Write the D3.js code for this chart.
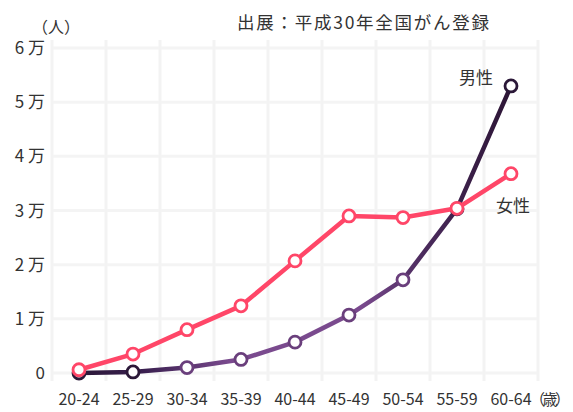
<!DOCTYPE html>
<html>
<head>
<meta charset="utf-8">
<script src="https://cdn.jsdelivr.net/npm/d3@7"></script>
<style>
  body { margin: 0; background: #fff; }
  text { font-family: "Noto Sans CJK JP", sans-serif; fill: #333; }
</style>
</head>
<body>
<svg id="chart" width="573" height="412"></svg>
<script>
const ages = ['20-24', '25-29', '30-34', '35-39', '40-44', '45-49', '50-54', '55-59', '60-64'];
const male = [0.0, 0.02, 0.1, 0.25, 0.57, 1.07, 1.72, 3.03, 5.3];
const female = [0.06, 0.35, 0.8, 1.24, 2.07, 2.9, 2.87, 3.04, 3.68];
const yTicks = [0, 1, 2, 3, 4, 5, 6];

const svg = d3.select('#chart');
const plotLeft = 52, plotRight = 538, plotTop = 40, plotBottom = 381;

const x = d3.scaleBand().domain(ages).range([plotLeft, plotRight]).padding(0);
const y = d3.scaleLinear().domain([0, 6]).range([373, 48]);
const cx = d => x(d) + x.bandwidth() / 2;

// faint grid
const grid = svg.append('g');
grid.selectAll('line.h').data(yTicks).enter().append('line')
  .attr('x1', plotLeft).attr('x2', plotRight)
  .attr('y1', d => y(d)).attr('y2', d => y(d))
  .attr('stroke', '#f4f4f4').attr('stroke-width', 3);
grid.selectAll('line.v').data(ages.concat(['end'])).enter().append('line')
  .attr('x1', (d, i) => plotLeft + i * x.bandwidth()).attr('x2', (d, i) => plotLeft + i * x.bandwidth())
  .attr('y1', plotTop).attr('y2', plotBottom)
  .attr('stroke', '#f3f3f3').attr('stroke-width', 3);

// y axis labels
svg.append('g').selectAll('text').data(yTicks).enter().append('text')
  .attr('x', 45).attr('y', d => y(d) + 6)
  .attr('text-anchor', 'end').attr('font-size', 17)
  .text(d => d === 0 ? '0' : d + ' 万');

// x axis labels
svg.append('g').selectAll('text').data(ages).enter().append('text')
  .attr('x', d => cx(d)).attr('y', 405)
  .attr('text-anchor', 'middle').attr('font-size', 16)
  .text(d => d);
svg.append('text').attr('x', 530).attr('y', 405)
  .attr('font-size', 15).attr('letter-spacing', -2.5)
  .text('（歳）');

svg.append('text').attr('x', 32).attr('y', 33).attr('font-size', 16).text('（人）');
svg.append('text').attr('x', 237).attr('y', 29).attr('font-size', 17.5)
  .attr('textLength', 252).text('出展：平成30年全国がん登録');

// male line gradient
const defs = svg.append('defs');
const grad = defs.append('linearGradient').attr('id', 'maleGrad')
  .attr('gradientUnits', 'userSpaceOnUse')
  .attr('x1', cx(ages[0])).attr('x2', cx(ages[8])).attr('y1', 0).attr('y2', 0);
[[0, '#2b1838'], [0.15, '#3a2050'], [0.35, '#7a4a8e'], [0.65, '#7a4a8e'], [0.8, '#4a2a5c'], [1, '#2c1535']]
  .forEach(s => grad.append('stop').attr('offset', s[0]).attr('stop-color', s[1]));

const line = d3.line().x((d, i) => cx(ages[i])).y(d => y(d));

function series(vals, stroke, markerStroke) {
  const g = svg.append('g');
  g.append('path').datum(vals).attr('d', line)
    .attr('fill', 'none').attr('stroke', stroke).attr('stroke-width', 4.5)
    .attr('stroke-linejoin', 'round');
  g.selectAll('circle').data(vals).enter().append('circle')
    .attr('cx', (d, i) => cx(ages[i])).attr('cy', d => y(d)).attr('r', 6)
    .attr('fill', '#fff')
    .attr('stroke', (d, i) => markerStroke(i)).attr('stroke-width', 2.8);
}

const maleMarker = ['#2b1838', '#2b1838', '#6a3f7c', '#6a3f7c', '#6a3f7c', '#6a3f7c', '#6a3f7c', '#3a2048', '#2b1838'];
series(male, 'url(#maleGrad)', i => maleMarker[i]);
series(female, '#ff4668', () => '#ff4668');

svg.append('text').attr('x', 459).attr('y', 84).attr('font-size', 17).text('男性');
svg.append('text').attr('x', 496).attr('y', 212).attr('font-size', 17).text('女性');
</script>
</body>
</html>
